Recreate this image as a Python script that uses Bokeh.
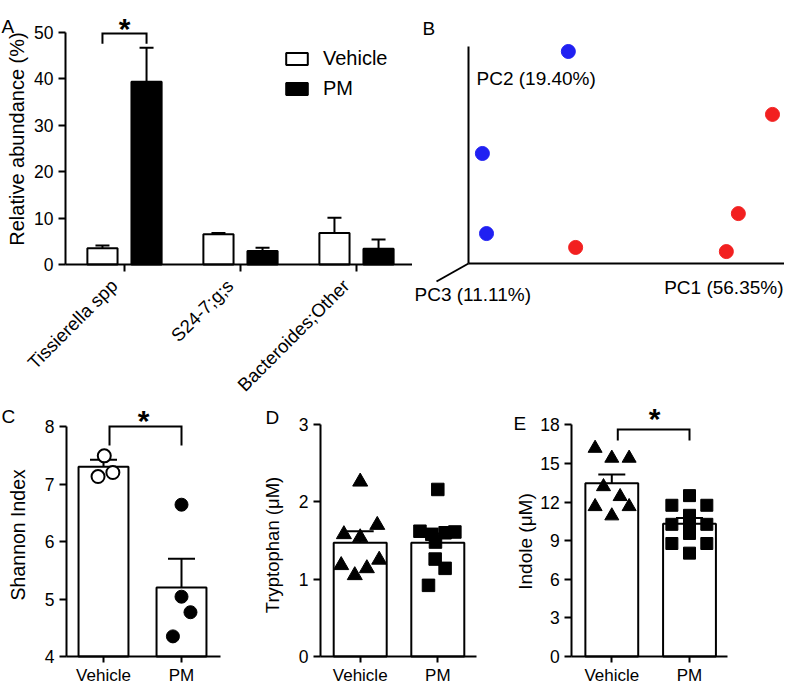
import math
from bokeh.plotting import figure
from bokeh.layouts import column, row
from bokeh.models import (ColumnDataSource, Whisker, TeeHead, Label, Legend,
                          LegendItem, FixedTicker, Range1d, LinearAxis, Grid)
from bokeh.embed import file_html
from bokeh.resources import INLINE

FONT = "Liberation Sans"

# ---------------- data ----------------
# Panel A: relative abundance (%)
taxa = ["Tissierella spp", "S24-7;g;s", "Bacteroides;Other"]
veh_abund = [3.5, 6.5, 6.8]
veh_abund_sem = [0.6, 0.3, 3.3]
pm_abund = [39.4, 2.9, 3.4]
pm_abund_sem = [7.3, 0.7, 2.0]
a_yticks = [0, 10, 20, 30, 40, 50]

# Panel B: PCoA scores (axis-normalised)
veh_pc1 = [0.316, 0.044, 0.057]
veh_pc2 = [0.977, 0.507, 0.138]
pm_pc1 = [0.962, 0.854, 0.816, 0.339]
pm_pc2 = [0.687, 0.230, 0.055, 0.074]
pc_labels = ["PC1 (56.35%)", "PC2 (19.40%)", "PC3 (11.11%)"]

groups = ["Vehicle", "PM"]

# Panel C: Shannon index
shannon_veh = [7.49, 7.13, 7.20]
shannon_veh_jit = [0.01, -0.07, 0.12]
shannon_pm = [6.64, 5.04, 4.77, 4.35]
shannon_pm_jit = [0.0, 0.0, 0.115, -0.11]
shannon_mean = [7.30, 5.20]
shannon_sem = [0.12, 0.50]
c_yticks = [4, 5, 6, 7, 8]

# Panel D: Tryptophan (uM)
trp_veh = [2.26, 1.70, 1.58, 1.54, 1.18, 1.05, 1.14, 1.25]
trp_veh_jit = [0.0, 0.22, -0.21, 0.0, -0.245, -0.07, 0.086, 0.245]
trp_pm = [2.16, 1.62, 1.58, 1.60, 1.61, 1.48, 1.26, 1.14, 0.92]
trp_pm_jit = [0.0, -0.23, -0.077, 0.094, 0.22, -0.03, -0.034, 0.094, -0.12]
trp_mean = [1.47, 1.47]
trp_sem = [0.15, 0.12]
d_yticks = [0, 1, 2, 3]

# Panel E: Indole (uM)
ind_veh = [16.18, 15.41, 15.41, 13.2, 12.43, 11.65, 11.65, 10.93]
ind_veh_jit = [-0.215, 0.0, 0.223, -0.107, 0.107, -0.215, 0.223, 0.0]
ind_pm = [12.5, 11.75, 11.75, 10.97, 10.27, 10.27, 10.27, 9.56, 8.78, 8.78, 8.03]
ind_pm_jit = [0.0, -0.227, 0.223, 0.0, -0.227, 0.0, 0.223, 0.0, -0.227, 0.223, 0.0]
ind_mean = [13.47, 10.31]
ind_sem = [0.68, 0.45]
e_yticks = [0, 3, 6, 9, 12, 15, 18]


# ---------------- helpers ----------------
def make_panel(w, h, xa_px, xa_val, sx, ya_px, ya_val, sy):
    """Figure whose frame fills the whole canvas; mapping given by an anchor
    pixel (local coords, y downwards) and pixels-per-unit scales."""
    x0 = xa_val - xa_px / sx
    x1 = x0 + w / sx
    y0 = ya_val - (h - ya_px) / sy
    y1 = y0 + h / sy
    p = figure(width=w, height=h, x_range=Range1d(x0, x1), y_range=Range1d(y0, y1),
               output_backend="svg", toolbar_location=None, tools="",
               x_axis_location=None, y_axis_location=None,
               min_border_left=0, min_border_right=0,
               min_border_top=0, min_border_bottom=0)
    p.outline_line_color = None
    p.background_fill_color = "white"
    p.border_fill_color = "white"
    p.center = [r for r in p.center if not isinstance(r, Grid)]

    def fx(px):
        return x0 + px / sx

    def fy(py):
        return y0 + (h - py) / sy
    return p, fx, fy


def add_text(p, x, y, text, size, align="left", baseline="alphabetic",
             angle=0.0, bold=False):
    p.add_layout(Label(x=x, y=y, text=text, text_font=FONT, text_font_size=size,
                       text_align=align, text_baseline=baseline, angle=angle,
                       text_font_style="bold" if bold else "normal",
                       text_color="black"))


def style(ax):
    ax.axis_line_width = 2
    ax.axis_line_color = "black"
    ax.major_tick_line_width = 2
    ax.major_tick_line_color = "black"
    ax.major_tick_in = 0
    ax.minor_tick_line_color = None
    ax.major_label_text_font = FONT
    ax.major_label_text_color = "black"


def add_axes(p, x_at, y_at, xbounds, ybounds, xticks, xlabels, yticks,
             xsize="17px", xtick_out=6, xstand=3):
    xa = LinearAxis(fixed_location=y_at, bounds=xbounds,
                    ticker=FixedTicker(ticks=xticks),
                    major_label_overrides={t: l for t, l in zip(xticks, xlabels)},
                    major_label_text_font_size=xsize,
                    major_tick_out=xtick_out, major_label_standoff=xstand)
    ya = LinearAxis(fixed_location=x_at, bounds=ybounds,
                    ticker=FixedTicker(ticks=yticks),
                    major_label_text_font_size="17.5px",
                    major_tick_out=7, major_label_standoff=5)
    style(xa)
    style(ya)
    p.add_layout(xa, "below")
    p.add_layout(ya, "left")
    return xa, ya


def bracket(p, x1, x2, y_top, y_low):
    p.line([x1, x1, x2, x2], [y_low, y_top, y_top, y_low],
           line_color="black", line_width=2, line_join="miter")


def whiskers(p, xs, means, sems, cap, both=True):
    src = ColumnDataSource(dict(
        x=xs,
        lower=[m - s for m, s in zip(means, sems)] if both else list(means),
        upper=[m + s for m, s in zip(means, sems)]))
    w = Whisker(source=src, base="x", lower="lower", upper="upper",
                line_width=2, line_color="black",
                upper_head=TeeHead(size=cap, line_width=2, line_color="black"),
                lower_head=TeeHead(size=cap, line_width=2, line_color="black") if both else None)
    p.add_layout(w)


# ---------------- Panel A ----------------
pA, ax_, ay_ = make_panel(412, 396, 124, 1, 116, 264, 0, 4.64)
cat_x = [1, 2, 3]
off = 0.19
bw = 0.26
veh_x = [c - off for c in cat_x]
pm_x = [c + off for c in cat_x]
rv = pA.vbar(x=veh_x, top=veh_abund, bottom=0, width=bw, fill_color="white",
             line_color="black", line_width=2)
rp = pA.vbar(x=pm_x, top=pm_abund, bottom=0, width=bw, fill_color="black",
             line_color="black", line_width=2)
whiskers(pA, veh_x, veh_abund, veh_abund_sem, 14, both=False)
whiskers(pA, pm_x, pm_abund, pm_abund_sem, 14, both=False)
add_axes(pA, ax_(65), 0, (ax_(65), ax_(412)), (0, 50), cat_x, ["", "", ""],
         a_yticks, xtick_out=7)
# rotated category labels (their own axis, nudged so each label ends at its tick)
lab_shift = 0.09
lab_ticks = [c - lab_shift for c in cat_x]
lab_ax = LinearAxis(fixed_location=0, ticker=FixedTicker(ticks=lab_ticks),
                    major_label_overrides={t: l for t, l in zip(lab_ticks, taxa)},
                    major_label_orientation=math.pi / 4,
                    major_label_text_font_size="18.5px", major_label_standoff=11,
                    major_tick_out=7, axis_line_color=None,
                    major_tick_line_color=None, minor_tick_line_color=None,
                    major_label_text_font=FONT, major_label_text_color="black")
pA.add_layout(lab_ax, "below")
bracket(pA, veh_x[0], pm_x[0], 49.8, 47.6)
add_text(pA, 1.0, ay_(28), "*", "30px", align="center", bold=True)
add_text(pA, ax_(1), ay_(26), "A", "19px")
add_text(pA, ax_(16.5), ay_(138.5), "Relative abundance (%)", "20px",
         align="center", baseline="middle", angle=math.pi / 2)
leg = Legend(items=[LegendItem(label="Vehicle", renderers=[rv]),
                    LegendItem(label="PM", renderers=[rp])],
             location=(283, 296.5), glyph_width=27, glyph_height=15,
             label_standoff=13, spacing=7, padding=0, margin=0,
             border_line_color=None, background_fill_alpha=0,
             label_text_font=FONT, label_text_font_size="20px",
             label_text_color="black", label_height=15)
pA.add_layout(leg)

# ---------------- Panel B ----------------
pB, bx_, by_ = make_panel(372, 396, 56, 0, 316, 263, 0, 217)
pB.line([0, 1.0], [0, 0], line_color="black", line_width=2)
pB.line([0, 0], [0, 1.0], line_color="black", line_width=2)
pB.line([0, bx_(24)], [0, by_(281)], line_color="black", line_width=2)
pB.scatter(veh_pc1, veh_pc2, marker="circle", size=14,
           fill_color="#2020f2", line_color="#2020f2")
pB.scatter(pm_pc1, pm_pc2, marker="circle", size=14,
           fill_color="#f22020", line_color="#f22020")
add_text(pB, bx_(10), by_(28), "B", "19px")
add_text(pB, bx_(64), by_(78), pc_labels[1], "19px")
add_text(pB, bx_(371), by_(286.7), pc_labels[0], "19px", align="right")
add_text(pB, bx_(2), by_(294), pc_labels[2], "19px")


# ---------------- Bottom panels ----------------
def dot_panel(p, means, sems, vals_a, jit_a, vals_b, jit_b, base, bwidth,
              marker_a, marker_b, size_a, size_b, open_a=False):
    xs = [1, 2]
    p.vbar(x=xs, top=means, bottom=base, width=bwidth, fill_color="white",
           line_color="black", line_width=2)
    p.scatter([1 + j for j in jit_a], vals_a, marker=marker_a, size=size_a,
              fill_color="white" if open_a else "black", line_color="black",
              line_width=2 if open_a else 1)
    p.scatter([2 + j for j in jit_b], vals_b, marker=marker_b, size=size_b,
              fill_color="black", line_color="black")
    whiskers(p, xs, means, sems, 27, both=True)


# C
pC, cx_, cy_ = make_panel(256, 288, 103, 1, 78, 260, 4, 57.5)
dot_panel(pC, shannon_mean, shannon_sem, shannon_veh, shannon_veh_jit,
          shannon_pm, shannon_pm_jit, 4, 0.64, "circle", "circle", 13, 13,
          open_a=True)
add_axes(pC, cx_(66), 4, (cx_(66), cx_(220)), (4, 8), [1, 2], groups, c_yticks)
bracket(pC, 1.077, 2.0, 8.0, 7.67)
add_text(pC, 1.513, cy_(24.4), "*", "30px", align="center", bold=True)
add_text(pC, cx_(1), cy_(20), "C", "19px")
add_text(pC, cx_(17.5), cy_(138.3), "Shannon Index", "19.5px",
         align="center", baseline="middle", angle=math.pi / 2)

# D
pD, dx_, dy_ = make_panel(250, 288, 103.7, 1, 77.6, 260, 0, 77.33)
dot_panel(pD, trp_mean, trp_sem, trp_veh, trp_veh_jit, trp_pm, trp_pm_jit,
          0, 0.683, "triangle", "square", 15, 12.5)
add_axes(pD, dx_(64), 0, (dx_(64), dx_(220)), (0, 3), [1, 2], groups, d_yticks)
add_text(pD, dx_(9), dy_(21), "D", "19px")
add_text(pD, dx_(15.5), dy_(148.5), "Tryptophan (\u03bcM)", "18.5px",
         align="center", baseline="middle", angle=math.pi / 2)

# E
pE, ex_, ey_ = make_panel(278, 288, 105.3, 1, 77.7, 260, 0, 12.87)
dot_panel(pE, ind_mean, ind_sem, ind_veh, ind_veh_jit, ind_pm, ind_pm_jit,
          0, 0.68, "triangle", "square", 14, 12)
add_axes(pE, ex_(65.3), 0, (ex_(65.3), ex_(221)), (0, 18), [1, 2], groups, e_yticks)
bracket(pE, 1.077, 2.0, 17.64, 16.78)
add_text(pE, 1.55, ey_(22.4), "*", "30px", align="center", bold=True)
add_text(pE, ex_(7), ey_(27), "E", "19px")
add_text(pE, ex_(18.5), ey_(145), "Indole (\u03bcM)", "19px",
         align="center", baseline="middle", angle=math.pi / 2)

layout = column(row(pA, pB), row(pC, pD, pE))
open("out.html", "w").write(file_html(layout, INLINE))
